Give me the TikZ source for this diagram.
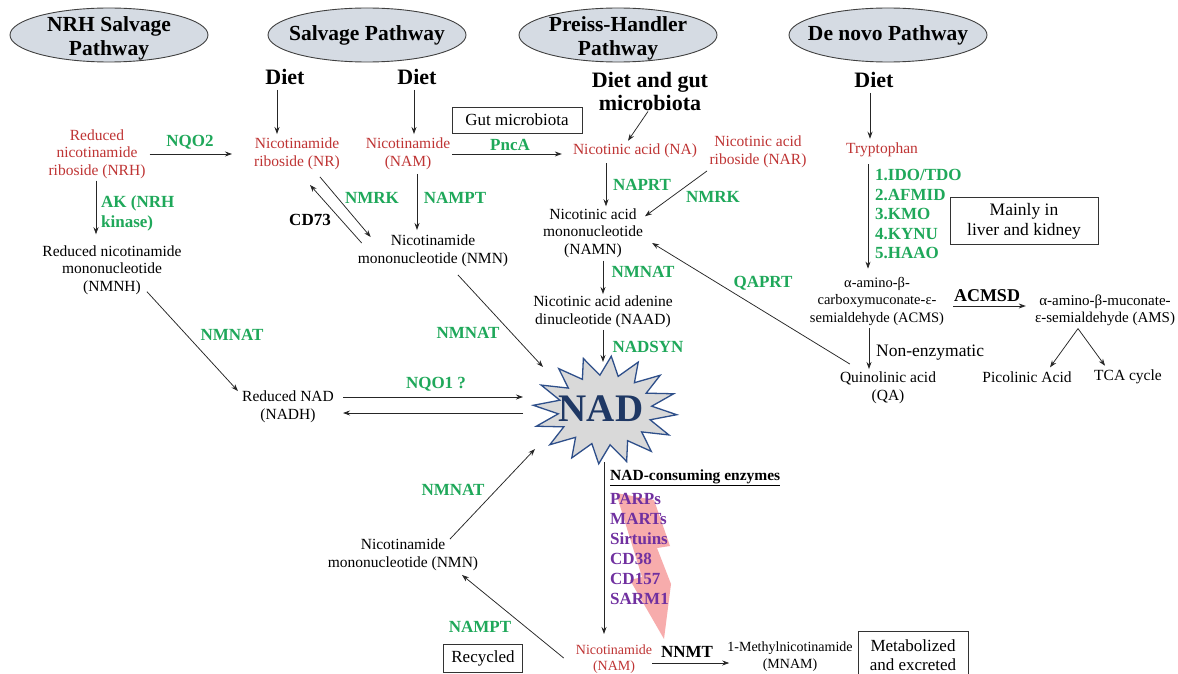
\documentclass[tikz,border=0pt]{standalone}
\usepackage{fontspec}
\setmainfont{Liberation Serif}
\usetikzlibrary{arrows.meta,shapes.geometric,calc}
\definecolor{rd}{HTML}{BF3434}
\definecolor{gn}{HTML}{1FA85A}
\definecolor{pu}{HTML}{7030A0}
\definecolor{ellfill}{HTML}{D5DBE3}
\definecolor{navy}{HTML}{1F3864}
\definecolor{starline}{HTML}{2E4F8A}
\definecolor{starfill}{HTML}{D9D9D9}
\definecolor{boltc}{HTML}{F7A3A3}
\newcommand{\setfs}[2]{\fontsize{#1}{#2}\selectfont}
\begin{document}
\begin{tikzpicture}[x=1pt,y=-1pt,
  txt/.style={font=\setfs{15.5}{17.5}, align=center, inner sep=1pt},
  rtxt/.style={txt, text=rd},
  enz/.style={font=\bfseries\setfs{17}{20}, text=gn, inner sep=1pt, align=left},
  blab/.style={font=\bfseries\setfs{17}{20}, inner sep=1pt},
  diet/.style={font=\bfseries\setfs{22}{23}, align=center, inner sep=1pt},
  pwy/.style={draw=black!75, line width=0.9pt, fill=ellfill, ellipse, minimum width=198pt, minimum height=54pt, inner sep=0pt},
  pwyt/.style={font=\bfseries\setfs{21.5}{24}, align=center, inner sep=0pt},
  boxn/.style={draw=black!80, line width=0.7pt, font=\setfs{17}{19.5}, align=center, inner sep=0pt},
  arr/.style={-{Stealth[length=7pt,width=5pt]}, line width=0.75pt, draw=black!85}]
\clip (0,0) rectangle (1178,674);
\fill[white] (0,0) rectangle (1178,674);

% headings
\node[pwy] (e1) at (109,35) {}; \node[pwyt] (h1) at (109,38) {NRH Salvage\\Pathway};
\node[pwy] (e2) at (367,35) {}; \node[pwyt] (h2) at (367,35) {Salvage Pathway};
\node[pwy] (e3) at (618,35) {}; \node[pwyt] (h3) at (618,38) {Preiss-Handler\\Pathway};
\node[pwy] (e4) at (888,35) {}; \node[pwyt] (h4) at (888,35) {De novo Pathway};

% diet
\node[diet] (d1) at (285,77) {Diet};
\node[diet] (d2) at (417,77) {Diet};
\node[diet] (d3) at (650,91) {Diet and gut\\microbiota};
\node[diet] (d4) at (874,80) {Diet};

% row 1
\node[rtxt] (nrh) at (97,154) {Reduced\\nicotinamide\\riboside (NRH)};
\node[rtxt] (nr) at (297,154) {Nicotinamide\\riboside (NR)};
\node[rtxt] (nam) at (408,154) {Nicotinamide\\(NAM)};
\node[rtxt] (na) at (635,151) {Nicotinic acid (NA)};
\node[rtxt] (nar) at (758,152) {Nicotinic acid\\riboside (NAR)};
\node[rtxt] (trp) at (882,150) {Tryptophan};
\node[boxn, minimum width=130pt, minimum height=26pt] (gut) at (517,120) {Gut microbiota};

% other metabolites
\node[txt] (nmnh) at (112,270) {Reduced nicotinamide\\mononucleotide\\(NMNH)};
\node[txt] (nmn1) at (433,251) {Nicotinamide\\mononucleotide (NMN)};
\node[txt] (namn) at (593,233) {Nicotinic acid\\mononucleotide\\(NAMN)};
\node[txt] (naad) at (603,312) {Nicotinic acid adenine\\dinucleotide (NAAD)};
\node[txt] (nadh) at (288,407) {Reduced NAD\\(NADH)};
\node[txt, font=\setfs{14.5}{17.5}] (acms) at (877,301) {α-amino-β-\\carboxymuconate-ε-\\semialdehyde (ACMS)};
\node[txt, font=\setfs{15}{17}] (ams) at (1105,310) {α-amino-β-muconate-\\ε-semialdehyde (AMS)};
\node[txt] (pic) at (1027,377) {Picolinic Acid};
\node[txt] (tca) at (1128,377) {TCA cycle};
\node[txt] (qa) at (888,388) {Quinolinic acid\\(QA)};
\node[boxn, minimum width=148pt, minimum height=47pt, font=\setfs{17.5}{20}] (liver) at (1024,221) {Mainly in\\liver and kidney};

% NAD star
\draw[draw=starline, line width=1.3pt, fill=starfill, line join=miter]
  plot[samples at={0,...,31}, variable=\k]
  ({605+(72-25*mod(\k,2))*cos(\k*11.25+5)}, {410+(54-19*mod(\k,2))*sin(\k*11.25+5)}) -- cycle;
\node[font=\bfseries\setfs{39}{40}, text=navy, inner sep=0pt] (NAD) at (601,409) {NAD};
\coordinate (nA) at ([shift={(-58,-42)}]NAD.center);
\coordinate (nB) at ([shift={(2,-47)}]NAD.center);
\coordinate (nC) at ([shift={(-78,-12)}]NAD.center);
\coordinate (nD) at ([shift={(-78,4)}]NAD.center);
\coordinate (nE) at ([shift={(-66,40)}]NAD.center);
\coordinate (nF) at ([shift={(3,53)}]NAD.center);

% bottom
\node[txt] (nmnb) at (403,555) {Nicotinamide\\mononucleotide (NMN)};
\node[rtxt, font=\setfs{14}{15.5}] (namb) at (614,659) {Nicotinamide\\(NAM)};
\node[txt, font=\setfs{14}{17}] (mnam) at (790,657) {1-Methylnicotinamide\\(MNAM)};
\node[boxn, minimum width=110pt, minimum height=48pt] (met) at (913,655) {Metabolized\\and excreted};
\node[boxn, minimum width=79pt, minimum height=28pt] (rec) at (483,658) {Recycled};

\fill[boltc, opacity=0.9] (616,493) -- (654,500) -- (670,546) -- (657,548) -- (671,584) -- (664,639) -- (630,580) -- (642,577) -- cycle;
\node[anchor=west, font=\bfseries\setfs{15.5}{18}, inner sep=0pt] (cons) at (610,478) {\underline{NAD-consuming enzymes}};
\node[anchor=west, align=left, text=pu, font=\bfseries\setfs{17}{20}, inner sep=0pt] (plist) at (610,549) {PARPs\\MARTs\\Sirtuins\\CD38\\CD157\\SARM1};

% arrows top
\draw[arr] ([xshift=3pt]nrh.east) -- ([xshift=-21pt]nr.west);
\draw[arr] ($(d1.south)+(-8,4)$) -- ($(d1.south|-nr.north)+(-8,-3)$);
\draw[arr] ($(d2.south)+(-3,4)$) -- ($(d2.south|-nam.north)+(-3,-3)$);
\draw[arr] ($(d3.south)+(-2,0)$) -- ($(na.north)+(-7,-2)$);
\draw[arr] ($(d4.south)+(-4,4)$) -- ($(d4.south|-trp.north)+(-4,-3)$);
\draw[arr] ($(nam.east)+(1,0)$) -- ($(na.west|-nam.east)+(-10,0)$);
\node[enz] (lNQO2) at (190,142) {NQO2};
\node[enz] (lPncA) at (510,145) {PncA};

% NRH
\draw[arr] ($(nrh.south)+(-1,1)$) -- ($(nrh.south|-nmnh.north)+(-1,-10)$);
\node[enz, anchor=west] (lAK) at (100,213) {AK (NRH\\kinase)};
\draw[arr] ($(nmnh.south)+(35,-4)$) -- ($(nadh.north west)+(-3,1)$);
\node[enz] (lNMNAT1) at (232,335) {NMNAT};

% salvage
\draw[arr] ($(nr.south)+(23,6)$) -- ($(nmn1.north west)+(14,3)$);
\draw[arr] ($(nmn1.west)+(5,-8)$) -- ($(nr.south)+(13,14)$);
\node[enz] (lNMRK1) at (372,198) {NMRK};
\node[blab] (lCD73) at (310,220) {CD73};
\draw[arr] ($(nam.south)+(9,3)$) -- ($(nam.south|-nmn1.north)+(9,-4)$);
\node[enz] (lNAMPT1) at (455,198) {NAMPT};
\draw[arr] ($(nmn1.south)+(25,7)$) -- (nA);
\node[enz] (lNMNAT2) at (468,333) {NMNAT};
\draw[arr] ($(nadh.east)+(8,-10)$) -- (nC);
\draw[arr] (nD) -- ($(nadh.east)+(8,6)$);
\node[enz] (lNQO1) at (436,384) {NQO1 ?};

% Preiss-Handler
\draw[arr] ($(na.south)+(-29,4)$) -- ($(na.south|-namn.north)+(-29,-1)$);
\node[enz] (lNAPRT) at (642,185) {NAPRT};
\draw[arr] ($(nar.south)+(-51,2)$) -- ($(namn.north)+(52,9)$);
\node[enz] (lNMRK2) at (713,197) {NMRK};
\draw[arr] ($(naad.north|-namn.south)+(0,2)$) -- ($(naad.north)+(0,-1)$);
\node[enz] (lNMNAT3) at (643,272) {NMNAT};
\draw[arr] ($(naad.south)+(0,1)$) -- (nB);
\node[enz] (lNADSYN) at (648,347) {NADSYN};
\draw[arr] ($(qa.north west)+(11,-7)$) -- ($(namn.east)+(8,10)$);
\node[enz] (lQAPRT) at (763,283) {QAPRT};

% de novo
\draw[arr] ($(trp.south)+(-14,6)$) -- ($(trp.south|-acms.north)+(-14,-7)$);
\node[enz, anchor=west, font=\bfseries\setfs{17}{19.5}] (lDenovo) at (874,214) {1.IDO/TDO\\2.AFMID\\3.KMO\\4.KYNU\\5.HAAO};
\draw[arr] ($(acms.east)+(8,5)$) -- ($(ams.west|-acms.east)+(-8,5)$);
\node[blab, font=\bfseries\setfs{18}{20}] (lACMSD) at (987,296) {ACMSD};
\draw[arr] ($(ams.south)+(-27,2)$) -- ($(pic.north)+(23,-3)$);
\draw[arr] ($(ams.south)+(-27,2)$) -- ($(tca.north)+(-23,-3)$);
\draw[arr] ($(acms.south)+(-8,2)$) -- ($(acms.south|-qa.north)+(-8,-2)$);
\node[anchor=west, font=\setfs{17.5}{20}, inner sep=1pt] (lNonenz) at (875,353) {Non-enzymatic};

% bottom arrows
\draw[arr] (nF) -- (nF|-0,634);
\draw[arr] ($(namb.east)+(-1,4)$) -- ($(mnam.west|-namb.east)+(3,4)$);
\node[blab] (lNNMT) at (687,652) {NNMT};
\draw[arr] ($(namb.west)+(-11,-1)$) -- ($(nmnb.south)+(59,3)$);
\node[enz] (lNAMPT2) at (480,627) {NAMPT};
\draw[arr] ($(nmnb.north)+(47,1)$) -- (nE);
\node[enz] (lNMNAT4) at (453,490) {NMNAT};
\end{tikzpicture}
\end{document}
